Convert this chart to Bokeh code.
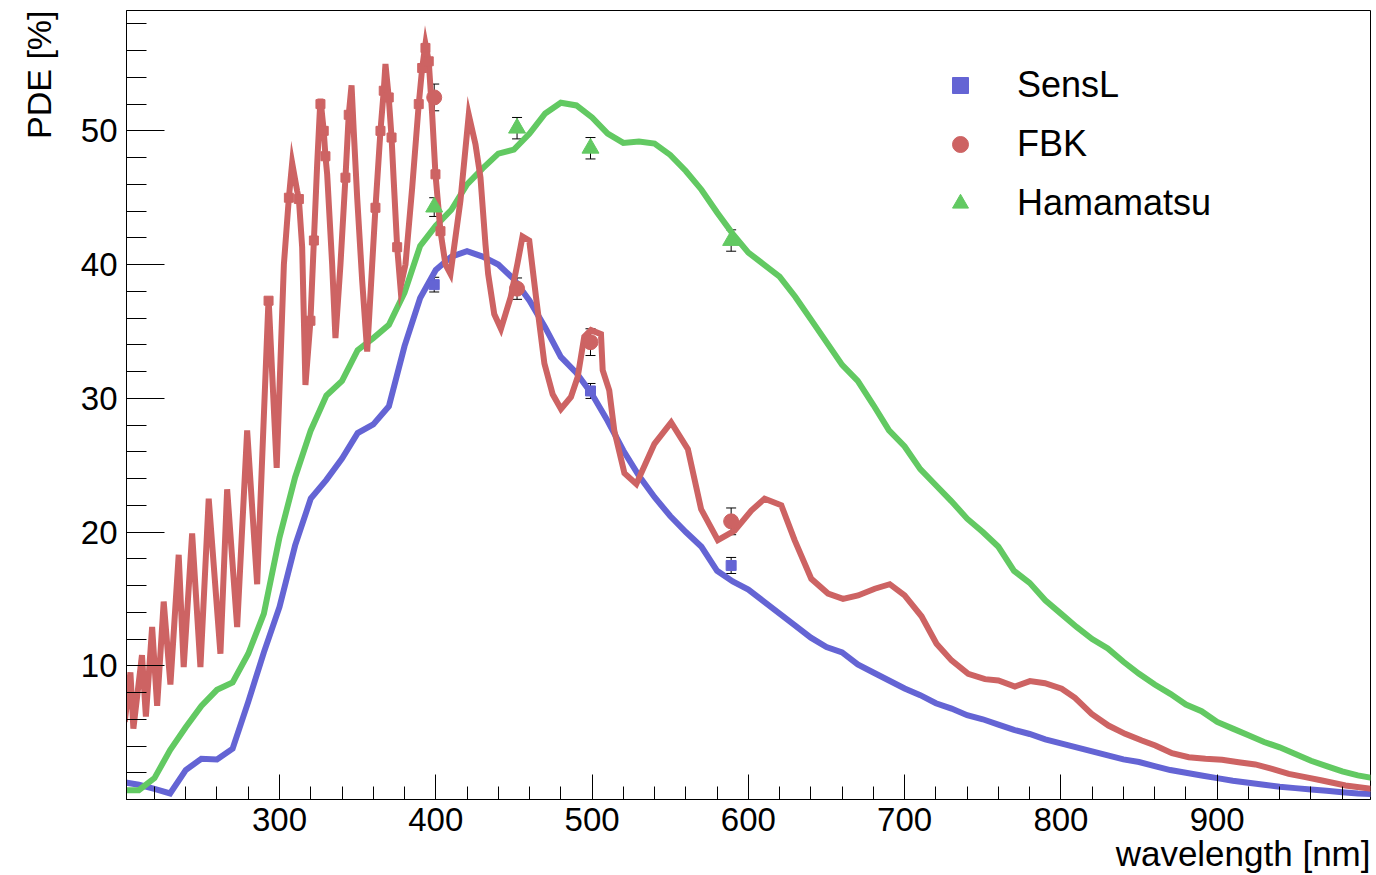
import math
from bokeh.plotting import figure
from bokeh.models import (Range1d, FixedTicker, Whisker, TeeHead, ColumnDataSource,
                          Legend, LegendItem, Title)
from bokeh.embed import file_html
from bokeh.resources import INLINE

# ---------------- data ----------------
sensl_wl = [200, 210, 220, 230, 240, 250, 260, 270, 280, 290, 300, 310, 320, 330, 340,
            350, 360, 370, 380, 390, 400, 410, 420, 430, 440, 450, 460, 470, 480, 490,
            500, 510, 520, 530, 540, 550, 560, 570, 580, 590, 600, 610, 620, 630, 640,
            650, 660, 670, 680, 690, 700, 710, 720, 730, 740, 750, 760, 770, 780, 790,
            800, 810, 820, 830, 840, 850, 860, 870, 880, 890, 900, 910, 920, 930, 940,
            950, 960, 970, 980, 990, 1000]
sensl_pde = [1.3, 1.1, 0.8, 0.45, 2.2, 3.05, 3.0, 3.8, 7.3, 11.0, 14.4, 19.0, 22.5, 23.9, 25.5,
             27.4, 28.05, 29.4, 33.9, 37.5, 39.6, 40.6, 41.0, 40.6, 40.0, 38.9, 37.3, 35.3, 33.1, 31.9,
             30.3, 28.3, 26.1, 24.2, 22.6, 21.2, 20.0, 18.9, 17.1, 16.3, 15.7, 14.8, 13.9, 13.0, 12.1,
             11.4, 11.0, 10.1, 9.5, 8.9, 8.3, 7.8, 7.2, 6.8, 6.3, 6.0, 5.6, 5.2, 4.9, 4.5,
             4.2, 3.9, 3.6, 3.3, 3.0, 2.8, 2.5, 2.2, 2.0, 1.8, 1.6, 1.4, 1.25, 1.1, 0.95,
             0.85, 0.75, 0.65, 0.55, 0.45, 0.4]

hama_wl = sensl_wl
hama_pde = [0.7, 0.7, 1.6, 3.7, 5.4, 7.0, 8.2, 8.75, 10.9, 13.9, 19.6, 24.1, 27.6, 30.2, 31.3,
            33.6, 34.5, 35.5, 37.9, 41.4, 42.9, 44.1, 46.0, 47.2, 48.3, 48.6, 49.8, 51.3, 52.1, 51.9,
            51.0, 49.8, 49.1, 49.2, 49.05, 48.2, 47.0, 45.6, 43.9, 42.3, 40.9, 40.0, 39.1, 37.6, 35.9,
            34.2, 32.5, 31.3, 29.5, 27.6, 26.4, 24.7, 23.5, 22.3, 21.0, 20.0, 18.9, 17.1, 16.2, 14.9,
            13.9, 12.9, 12.0, 11.3, 10.3, 9.4, 8.6, 7.9, 7.1, 6.6, 5.8, 5.3, 4.8, 4.3, 3.9,
            3.4, 2.9, 2.5, 2.1, 1.8, 1.6]

fbk_wl = [201.0, 204.6, 206.5, 212.0, 214.5, 218.5, 221.7, 225.9, 230.2, 235.5, 238.7, 244.1,
          249.4, 254.7, 262.2, 266.5, 272.9, 279.3, 285.7, 293.0, 298.2, 302.8, 306.0, 308.1,
          311.3, 312.4, 314.5, 316.6, 319.8, 322.0, 324.1, 326.2, 328.3, 329.4, 330.5, 333.7,
          335.8, 339.0, 342.2, 344.3, 346.1, 347.5, 349.7, 352.9, 356.1, 359.3, 361.4, 364.6,
          366.7, 367.8, 369.9, 371.7, 373.1, 375.3, 377.4, 380.6, 384.9, 389.1, 391.3, 393.4,
          395.5, 397.7, 399.8, 403.0, 406.2, 409.4, 415.8, 421.1, 425.4, 428.6, 431.8, 433.5,
          437.4, 441.7, 448.0, 452.3, 455.5, 459.8, 464.1, 469.5, 474.8, 480.1, 486.5, 490.8,
          495.0, 499.3, 505.7, 506.8, 511.0, 514.2, 520.7, 528.3, 539.9, 550.6, 561.3, 569.8,
          580.5, 591.2, 601.9, 610.4, 621.1, 629.6, 640.3, 651.0, 660.6, 670.2, 680.9, 690.5,
          700.0, 710.8, 720.4, 730.0, 740.7, 751.4, 760.0, 770.6, 780.2, 789.8, 800.5, 809.0,
          819.7, 830.4, 841.1, 851.8, 860.4, 871.1, 881.8, 892.5, 903.1, 913.7, 924.4, 935.1,
          945.8, 956.4, 967.1, 982.1, 999.0]
fbk_pde = [5.8, 9.5, 5.3, 10.8, 6.2, 12.9, 7.0, 14.8, 8.6, 18.3, 9.9, 19.9,
           9.9, 22.5, 10.9, 23.2, 12.9, 27.6, 16.1, 37.5, 24.8, 40.0, 45.0, 47.6,
           45.5, 44.9, 41.3, 31.0, 35.8, 41.8, 47.5, 52.4, 50.0, 48.1, 46.75, 40.0,
           34.5, 40.0, 46.5, 51.2, 53.4, 50.0, 45.0, 38.8, 33.5, 40.0, 44.25, 50.0,
           53.0, 55.0, 52.5, 49.5, 46.25, 41.3, 38.3, 40.0, 45.75, 52.0, 54.7, 56.5,
           55.2, 51.2, 46.75, 42.5, 40.0, 39.3, 44.8, 51.2, 49.0, 46.5, 41.5, 39.3,
           36.3, 35.2, 37.6, 40.1, 42.1, 41.8, 37.6, 32.6, 30.3, 29.2, 30.1, 31.6,
           34.6, 35.1, 34.8, 32.1, 30.6, 27.6, 24.4, 23.6, 26.6, 28.2, 26.2, 21.7,
           19.4, 20.1, 21.6, 22.5, 22.0, 19.4, 16.5, 15.4, 15.0, 15.26, 15.76, 16.1,
           15.26, 13.7, 11.65, 10.4, 9.4, 9.0, 8.9, 8.45, 8.85, 8.7, 8.28, 7.6,
           6.4, 5.53, 4.91, 4.41, 4.04, 3.46, 3.16, 3.04, 2.97, 2.79, 2.62, 2.29,
           1.92, 1.67, 1.42, 1.05, 0.8]

# small square markers visible on the dense part of the FBK curve
fbk_mark_wl = [293.0, 306.0, 312.4, 319.8, 322.0, 326.2, 328.3, 329.4, 342.2, 344.3, 361.4,
               364.6, 366.7, 369.9, 371.7, 375.3, 389.1, 391.3, 393.4, 395.5, 399.8, 403.0]
fbk_mark_pde = [37.3, 45.0, 44.9, 35.8, 41.8, 52.0, 50.0, 48.1, 46.5, 51.2, 44.25,
                50.0, 53.0, 52.5, 49.5, 41.3, 52.0, 54.7, 56.2, 55.2, 46.75, 42.5]

# measured points with errors
sensl_pt_wl = [399, 499, 589]
sensl_pt_pde = [38.5, 30.55, 17.5]
sensl_pt_err = [0.55, 0.56, 0.6]

fbk_pt_wl = [399, 452, 499, 589]
fbk_pt_pde = [52.5, 38.2, 34.2, 20.8]
fbk_pt_err = [1.0, 0.8, 1.0, 1.0]

hama_pt_wl = [399, 452, 499, 589]
hama_pt_pde = [44.3, 50.2, 48.7, 41.8]
hama_pt_err = [0.7, 0.8, 0.8, 0.8]

series_labels = ["SensL", "FBK", "Hamamatsu"]
x_title = "wavelength [nm]"
y_title = "PDE [%]"
x_major = [300, 400, 500, 600, 700, 800, 900]
y_major = [10, 20, 30, 40, 50]

# ---------------- styling ----------------
BLUE = "#6464d4"
RED = "#cd6363"
GREEN = "#62c962"
FONT = "Liberation Sans"

p = figure(width=1376, height=875, output_backend="svg", toolbar_location=None,
           x_range=Range1d(202.1, 998.1), y_range=Range1d(0, 59),
           min_border_left=126, min_border_right=6, min_border_top=10, min_border_bottom=76)
p.background_fill_color = "white"
p.border_fill_color = "white"
p.outline_line_color = "black"
p.outline_line_width = 1
p.grid.visible = False

p.xaxis.ticker = FixedTicker(ticks=x_major, minor_ticks=list(range(200, 1001, 20)))
p.yaxis.ticker = FixedTicker(ticks=y_major, minor_ticks=list(range(0, 60, 2)))
for ax in (p.xaxis, p.yaxis):
    ax.axis_line_color = "black"
    ax.axis_line_width = 1
    ax.major_tick_line_color = "black"
    ax.minor_tick_line_color = "black"
    ax.major_tick_out = 0
    ax.minor_tick_out = 0
    ax.major_label_text_font = FONT
    ax.major_label_text_font_size = "33px"
    ax.major_label_text_color = "black"
p.xaxis.major_tick_in = 25
p.xaxis.minor_tick_in = 13
p.yaxis.major_tick_in = 38
p.yaxis.minor_tick_in = 20
p.xaxis.major_label_standoff = 8
p.yaxis.major_label_standoff = 9

# axis titles, right-aligned at the axis ends (ROOT style)
p.add_layout(Title(text=x_title, align="right", vertical_align="top", standoff=1,
                   text_font=FONT, text_font_size="35px", text_font_style="normal",
                   text_color="black"), "below")
p.add_layout(Title(text=y_title, align="right", vertical_align="top", standoff=35,
                   text_font=FONT, text_font_size="34px", text_font_style="normal",
                   text_color="black"), "left")

# curves
p.line(sensl_wl, sensl_pde, line_width=6, color=BLUE, line_join="miter")
p.line(hama_wl, hama_pde, line_width=6, color=GREEN, line_join="miter")
p.line(fbk_wl, fbk_pde, line_width=6, color=RED, line_join="miter")
p.scatter(fbk_mark_wl, fbk_mark_pde, marker="square", size=9, color=RED)

# points
r_s = p.scatter(sensl_pt_wl, sensl_pt_pde, marker="square", size=10, color=BLUE)
r_f = p.scatter(fbk_pt_wl, fbk_pt_pde, marker="circle", size=15, color=RED)
r_h = p.scatter(hama_pt_wl, hama_pt_pde, marker="triangle", size=17, color=GREEN)

for wl, v, e in ((sensl_pt_wl, sensl_pt_pde, sensl_pt_err),
                 (fbk_pt_wl, fbk_pt_pde, fbk_pt_err),
                 (hama_pt_wl, hama_pt_pde, hama_pt_err)):
    src = ColumnDataSource(dict(x=wl, upper=[a + b for a, b in zip(v, e)],
                                lower=[a - b for a, b in zip(v, e)]))
    p.add_layout(Whisker(source=src, base="x", upper="upper", lower="lower",
                         line_color="black", line_width=1,
                         upper_head=TeeHead(size=10, line_color="black", line_width=1),
                         lower_head=TeeHead(size=10, line_color="black", line_width=1)))

legend = Legend(items=[LegendItem(label=series_labels[0], renderers=[r_s]),
                       LegendItem(label=series_labels[1], renderers=[r_f]),
                       LegendItem(label=series_labels[2], renderers=[r_h])],
                location=(814, 575), orientation="vertical",
                glyph_width=40, glyph_height=42, label_height=42, label_standoff=37,
                spacing=17, padding=0, margin=0,
                border_line_color=None, background_fill_alpha=0,
                label_text_font=FONT, label_text_font_size="36px",
                label_text_color="black")
p.add_layout(legend, "center")

open("out.html", "w").write(file_html(p, INLINE))
